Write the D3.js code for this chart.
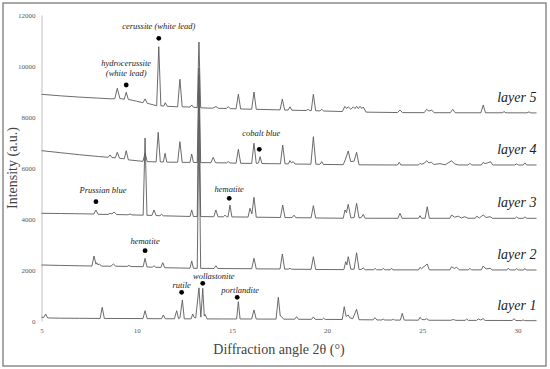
<!DOCTYPE html>
<html>
<head>
<meta charset="utf-8">
<script src="https://cdn.jsdelivr.net/npm/d3@7"></script>
<style>
  html, body { margin: 0; padding: 0; background: #fff; }
  svg { display: block; }
</style>
</head>
<body>
<div id="chart"></div>
<script>
// diffraction patterns, [2theta, intensity]
const layer1 = [[5.0,145],[5.12,140],[5.22,275],[5.32,120],[6.0,110],[7.0,106],[8.08,100],[8.19,537],[8.3,100],
  [10.33,95],[10.44,404],[10.55,92],[11.3,90],[11.4,235],[11.5,88],[11.98,88],[12.1,404],[12.2,90],[12.27,120],
  [12.4,824],[12.5,85],[12.86,85],[12.94,275],[13.02,140],[13.1,120],[13.27,1300],[13.37,150],[13.47,1280],
  [13.55,200],[13.59,260],[13.7,82],[14.5,80],[15.25,80],[15.34,757],[15.43,80],[16.04,78],[16.16,431],[16.28,76],
  [17.32,75],[17.44,929],[17.54,200],[17.61,169],[17.72,72],[18.3,70],[18.4,169],[18.5,68],[19.18,66],[19.28,160],
  [19.38,64],[19.75,64],[19.82,110],[19.9,62],[20.8,60],[20.9,561],[21.0,180],[21.11,235],[21.2,120],[21.35,90],
  [21.55,459],[21.68,50],[22.42,45],[22.52,129],[22.62,40],[22.88,40],[22.95,78],[23.03,38],[23.4,38],[23.48,70],
  [23.56,36],[23.85,35],[23.95,302],[24.05,35],[24.8,32],[24.88,145],[24.98,60],[25.1,50],[25.23,90],[25.35,30],
  [26.5,28],[26.63,60],[26.76,26],[27.25,25],[27.33,80],[27.42,24],[27.85,24],[27.94,80],[28.05,40],[28.2,90],
  [28.3,22],[29.72,20],[29.82,90],[29.92,18],[30.22,16],[30.3,40],[30.38,14],[31.0,12]];

const layer2 = [[5.0,2196],[6.0,2180],[7.0,2165],[7.65,2157],[7.76,2549],[7.86,2230],[7.9,2286],[7.97,2200],
  [8.04,2240],[8.15,2150],[8.65,2150],[8.77,2235],[8.9,2150],[9.5,2140],[9.6,2180],[9.7,2135],[10.34,2130],
  [10.44,2459],[10.54,2120],[10.82,2110],[10.91,2169],[11.0,2105],[11.27,2100],[11.37,2286],[11.47,2090],
  [12.8,2070],[12.89,2353],[12.98,2065],[13.18,2065],[13.27,7880],[13.36,2065],[14.06,2060],[14.16,2169],
  [14.26,2058],[16.04,2050],[16.16,2459],[16.28,2045],[17.53,2040],[17.65,2627],[17.77,2035],[17.97,2035],
  [18.05,2067],[18.13,2030],[19.16,2025],[19.28,2522],[19.4,2020],[20.88,2015],[20.98,2325],[21.04,2200],
  [21.11,2522],[21.25,2030],[21.42,2030],[21.55,2678],[21.68,2020],[21.8,2025],[21.9,2080],[22.0,2010],
  [22.45,2008],[22.52,2067],[22.6,2008],[22.88,2008],[22.95,2067],[23.03,2008],[23.32,2008],[23.39,2067],
  [23.46,2005],[24.8,2005],[24.88,2106],[24.96,2050],[25.26,2235],[25.37,2005],[26.45,2005],[26.54,2129],
  [26.68,2060],[26.8,2106],[26.95,2005],[27.42,2005],[27.5,2067],[27.58,2005],[28.1,2005],[28.2,2157],
  [28.35,2040],[28.56,2067],[28.68,2002],[29.45,2002],[29.52,2067],[29.6,2002],[29.88,2002],[29.96,2060],
  [30.04,2000],[30.32,2000],[30.39,2060],[30.46,2000],[31.0,2000]];

const layer3 = [[5.0,4224],[6.0,4215],[7.0,4205],[7.75,4195],[7.86,4353],[7.97,4185],[8.5,4180],[8.6,4224],
  [8.7,4200],[8.81,4275],[8.95,4175],[9.55,4165],[9.65,4200],[9.75,4160],[10.34,4150],[10.44,7177],[10.54,4145],
  [10.8,4140],[10.91,4353],[11.02,4135],[11.22,4130],[11.31,4180],[11.4,4125],[12.8,4100],[12.89,4353],
  [12.98,4095],[13.18,4095],[13.27,9650],[13.36,4095],[14.05,4090],[14.16,4353],[14.27,4088],[14.55,4085],
  [14.64,4150],[14.73,4085],[14.8,4085],[14.9,4549],[15.0,4082],[15.85,4075],[15.95,4420],[16.05,4200],
  [16.16,4851],[16.28,4070],[17.55,4060],[17.67,4549],[17.79,4058],[18.16,4055],[18.26,4150],[18.36,4052],
  [19.16,4045],[19.28,4522],[19.4,4040],[20.85,4030],[20.94,4353],[21.02,4250],[21.11,4577],[21.25,4040],
  [21.42,4060],[21.55,4616],[21.68,4040],[21.8,4060],[21.9,4180],[22.0,4030],[23.72,4028],[23.83,4224],
  [23.94,4028],[24.8,4028],[24.88,4130],[24.96,4028],[25.15,4028],[25.26,4482],[25.37,4028],[26.45,4028],
  [26.54,4157],[26.7,4070],[26.89,4110],[27.05,4040],[27.24,4090],[27.4,4030],[27.78,4030],[27.86,4110],
  [28.0,4040],[28.2,4157],[28.35,4060],[28.56,4090],[28.7,4027],[29.88,4027],[29.96,4080],[30.05,4027],
  [30.3,4027],[30.39,4080],[30.48,4027],[31.0,4027]];

const layer4 = [[5.0,6680],[6.0,6600],[7.0,6520],[8.0,6450],[8.5,6420],[8.6,6510],[8.7,6410],[8.88,6400],
  [8.98,6616],[9.1,6380],[9.35,6360],[9.45,6680],[9.56,6320],[10.33,6260],[10.44,6590],[10.55,6250],
  [11.02,6240],[11.13,7400],[11.24,6240],[11.4,6235],[11.49,6577],[11.58,6230],[12.15,6225],[12.27,7030],
  [12.39,6220],[12.8,6220],[12.89,6550],[12.98,6215],[13.18,6215],[13.27,9920],[13.36,6212],[13.9,6210],
  [14.02,6420],[14.14,6205],[14.72,6200],[14.81,6250],[14.9,6195],[15.22,6190],[15.34,6734],[15.46,6185],
  [16.04,6180],[16.16,6970],[16.28,6180],[16.4,6200],[16.48,6443],[16.58,6175],[17.55,6165],[17.67,6900],
  [17.79,6165],[17.97,6160],[18.05,6290],[18.13,6200],[18.22,6250],[18.32,6155],[19.15,6150],[19.28,7227],
  [19.41,6148],[19.63,6145],[19.72,6250],[19.81,6140],[20.85,6130],[20.97,6350],[21.11,6667],[21.24,6250],
  [21.42,6270],[21.55,6616],[21.68,6125],[23.7,6118],[23.79,6224],[23.88,6118],[24.8,6118],[24.88,6180],
  [24.96,6150],[25.1,6180],[25.23,6286],[25.35,6200],[25.49,6220],[25.6,6140],[25.93,6170],[26.2,6125],
  [26.54,6286],[26.7,6160],[26.9,6120],[27.4,6118],[27.5,6180],[27.6,6118],[28.1,6118],[28.2,6220],
  [28.3,6170],[28.59,6247],[28.7,6118],[29.85,6118],[29.96,6160],[30.05,6118],[30.3,6118],[30.39,6200],
  [30.48,6118],[31.0,6118]];

const layer5 = [[5.0,8890],[6.0,8830],[7.0,8780],[8.0,8740],[8.7,8710],[8.85,8720],[8.98,9125],[9.12,8720],
  [9.35,8700],[9.45,8970],[9.56,8690],[10.0,8620],[10.33,8560],[10.44,8710],[10.55,8540],[11.05,8440],
  [11.16,10757],[11.27,8440],[11.42,8430],[11.5,8560],[11.6,8420],[12.15,8400],[12.27,9480],[12.39,8400],
  [12.8,8390],[12.89,8470],[12.98,8380],[13.18,8370],[13.27,10940],[13.36,8360],[14.0,8345],[14.16,8410],
  [14.3,8340],[14.7,8335],[14.81,8400],[14.92,8330],[15.22,8320],[15.34,8890],[15.46,8315],[16.04,8305],
  [16.16,8980],[16.28,8300],[17.53,8280],[17.65,8700],[17.77,8275],[17.95,8270],[18.05,8400],[18.15,8265],
  [18.9,8255],[19.01,8300],[19.1,8250],[19.17,8250],[19.28,8890],[19.4,8245],[19.62,8240],[19.72,8300],
  [19.82,8235],[20.8,8215],[20.94,8420],[21.03,8330],[21.11,8400],[21.25,8300],[21.38,8400],[21.47,8330],
  [21.55,8420],[21.64,8330],[21.73,8420],[21.82,8330],[21.9,8390],[22.05,8190],[23.7,8175],[23.83,8275],
  [23.96,8172],[25.1,8170],[25.23,8300],[25.35,8230],[25.49,8275],[25.62,8168],[26.47,8168],[26.6,8300],
  [26.73,8166],[28.08,8165],[28.2,8471],[28.32,8165],[29.2,8165],[29.3,8210],[29.4,8163],[30.5,8163],
  [30.6,8200],[30.7,8160],[31.0,8160]];

const layers = [layer1, layer2, layer3, layer4, layer5];
const layerNames = ["layer 1", "layer 2", "layer 3", "layer 4", "layer 5"];

const xTicks = [5, 10, 15, 20, 25, 30];
const yTicks = [0, 2000, 4000, 6000, 8000, 10000, 12000];

// marked phases: label lines, dot position in data units
const phaseLabels = [["cerussite (white lead)"], ["hydrocerussite", "(white lead)"], ["cobalt blue"],
  ["Prussian blue"], ["hematite"], ["hematite"], ["rutile"], ["wollastonite"], ["portlandite"]];
const phaseAngles = [11.16, 9.45, 16.44, 7.86, 14.86, 10.44, 12.36, 13.47, 15.28];
const phaseIntensities = [11087, 9255, 6734, 4679, 4812, 2757, 1125, 1478, 929];

// text placement relative to the dot, px
const labelOffsets = [[0, -9], [0, -9], [2, -13], [7, -9], [0, -6], [0, -7], [0, -4], [11, -4], [3, -4]];

const width = 550, height = 369;
const margin = {top: 15, right: 13.5, bottom: 48, left: 41.5};
const chartWidth = width - margin.left - margin.right;
const chartHeight = height - margin.top - margin.bottom;
const serif = "'Liberation Serif', 'Times New Roman', serif";

const svg = d3.select('#chart')
  .append('svg')
  .attr('width', width)
  .attr('height', height);

// outer frame
svg.append('rect')
  .attr('x', 3).attr('y', 3)
  .attr('width', 543).attr('height', 363)
  .attr('fill', 'none')
  .attr('stroke', '#8c8c8c')
  .attr('stroke-width', 1.5);

const chart = svg.append('g')
  .attr('transform', `translate(${margin.left}, ${margin.top})`);

const scaleX = d3.scaleLinear().domain([5, 31]).range([0, chartWidth]);
const scaleY = d3.scaleLinear().domain([0, 12000]).range([chartHeight, 0]);

const axisY = chart.append('g')
  .call(d3.axisLeft(scaleY).tickValues(yTicks).tickFormat(d3.format('d')).tickSize(0).tickPadding(6));
axisY.select('.domain').attr('stroke', '#bfbfbf');
axisY.selectAll('text')
  .attr('font-family', serif)
  .attr('font-size', 7)
  .attr('fill', '#595959');

const axisX = chart.append('g')
  .attr('transform', `translate(0, ${chartHeight})`)
  .call(d3.axisBottom(scaleX).tickValues(xTicks).tickSize(0).tickPadding(7));
axisX.select('.domain').remove();
axisX.selectAll('text')
  .attr('font-family', serif)
  .attr('font-size', 7)
  .attr('fill', '#595959');

// patterns
const line = d3.line()
  .x(d => scaleX(d[0]))
  .y(d => scaleY(d[1]));

chart.selectAll('.pattern')
  .data(layers)
  .join('path')
  .attr('class', 'pattern')
  .attr('d', line)
  .attr('fill', 'none')
  .attr('stroke', '#5a5a5a')
  .attr('stroke-width', 0.9)
  .attr('stroke-linejoin', 'round');

// layer names at the right end of each trace
chart.selectAll('.layerName')
  .data(layers)
  .join('text')
  .attr('class', 'layerName')
  .attr('x', d => scaleX(d[d.length - 1][0]))
  .attr('y', d => scaleY(d[d.length - 1][1]) - 11)
  .attr('text-anchor', 'end')
  .attr('font-family', serif)
  .attr('font-style', 'italic')
  .attr('font-size', 14)
  .attr('fill', '#222')
  .text((d, i) => layerNames[i]);

// phase markers
const markers = phaseLabels.map((lines, i) => ({
  lines, angle: phaseAngles[i], value: phaseIntensities[i], off: labelOffsets[i]
}));

chart.selectAll('.dot')
  .data(markers)
  .join('circle')
  .attr('class', 'dot')
  .attr('cx', d => scaleX(d.angle))
  .attr('cy', d => scaleY(d.value))
  .attr('r', 2.4)
  .attr('fill', '#000');

chart.selectAll('.phase')
  .data(markers)
  .join('text')
  .attr('class', 'phase')
  .attr('text-anchor', 'middle')
  .attr('font-family', serif)
  .attr('font-style', 'italic')
  .attr('font-size', 8.5)
  .attr('fill', '#222')
  .each(function (d) {
    const n = d.lines.length;
    d3.select(this).selectAll('tspan')
      .data(d.lines)
      .join('tspan')
      .attr('x', scaleX(d.angle) + d.off[0])
      .attr('y', (t, j) => scaleY(d.value) + d.off[1] - (n - 1 - j) * 10)
      .text(t => t);
  });

// axis titles
svg.append('text')
  .attr('transform', `translate(17, 168) rotate(-90)`)
  .attr('text-anchor', 'middle')
  .attr('font-family', serif)
  .attr('font-size', 14)
  .attr('fill', '#444')
  .text('Intensity (a.u.)');

svg.append('text')
  .attr('x', 279)
  .attr('y', 354)
  .attr('text-anchor', 'middle')
  .attr('font-family', serif)
  .attr('font-size', 14)
  .attr('fill', '#444')
  .text('Diffraction angle 2θ (°)');
</script>
</body>
</html>
